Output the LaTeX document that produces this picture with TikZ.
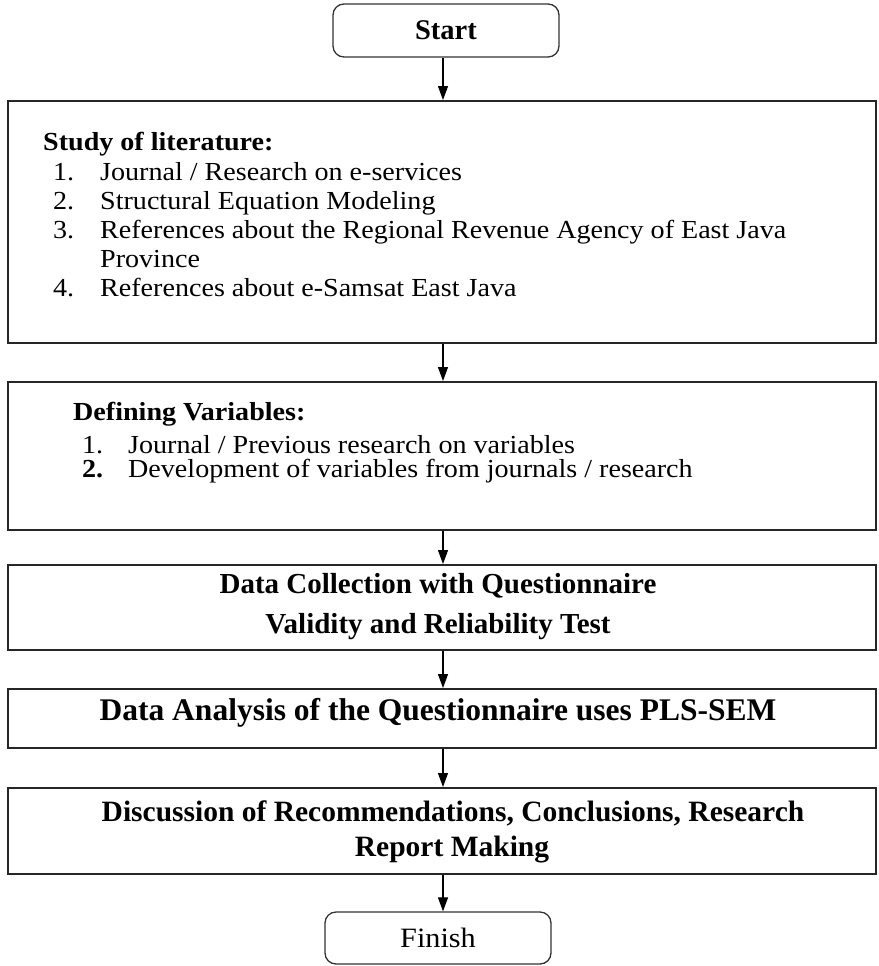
\documentclass[tikz,border=0pt]{standalone}
\usepackage{fontspec}
\setmainfont{Liberation Serif}[FakeStretch=1.08]
\newfontfamily\tfont{Liberation Serif}
\usetikzlibrary{arrows.meta}
\begin{document}
\begin{tikzpicture}[x=1pt,y=-1pt,
  box/.style={draw=black!85, line width=1.6pt, inner sep=0pt, anchor=north west, minimum width=868pt},
  rbox/.style={draw=black!80, line width=1.3pt, rounded corners=11pt, inner sep=0pt, minimum width=226pt},
  arr/.style={draw=black, line width=1.2pt, -{Triangle[width=10pt,length=14pt]}},
  bodyt/.style={inner sep=0pt, anchor=base west, font=\fontsize{26}{29}\selectfont},
  ctitle/.style={inner sep=0pt, anchor=base, font=\tfont\bfseries\fontsize{29.5}{35}\selectfont}
]
\useasboundingbox (0,0) rectangle (878,966);

% shapes
\node[rbox, minimum height=53pt, font=\tfont\bfseries\fontsize{28.5}{34}\selectfont] (start) at (446,30.5) {Start};
\node[box, minimum height=242pt] (b1) at (7,100) {};
\node[box, minimum height=148pt] (b2) at (7,381) {};
\node[box, minimum height=85pt] (b3) at (7,564) {};
\node[box, minimum height=59pt] (b4) at (7,688) {};
\node[box, minimum height=86pt] (b5) at (7,787) {};
\node[rbox, minimum height=52pt, font=\fontsize{28}{32}\selectfont] (finish) at (438,938) {Finish};

% arrows
\coordinate (ax) at (443,0);
\draw[arr] (start.south -| ax) -- (b1.north -| ax);
\draw[arr] (b1.south -| ax) -- (b2.north -| ax);
\draw[arr] (b2.south -| ax) -- (b3.north -| ax);
\draw[arr] (b3.south -| ax) -- (b4.north -| ax);
\draw[arr] (b4.south -| ax) -- (b5.north -| ax);
\draw[arr] (b5.south -| ax) -- (finish.north -| ax);

% box 1 text
\node[bodyt, font=\bfseries\fontsize{26}{29}\selectfont] (t1) at (43,150) {Study of literature:};
\node[bodyt] (n11) at (53,180) {1.};
\node[bodyt] (i11) at (100,180) {Journal / Research on e-services};
\node[bodyt] (n12) at (53,209) {2.};
\node[bodyt] (i12) at (100,209) {Structural Equation Modeling};
\node[bodyt] (n13) at (53,238) {3.};
\node[bodyt] (i13) at (100,238) {References about the Regional Revenue Agency of East Java};
\node[bodyt] (i13b) at (100,267) {Province};
\node[bodyt] (n14) at (53,296) {4.};
\node[bodyt] (i14) at (100,296) {References about e-Samsat East Java};

% box 2 text
\node[bodyt, font=\bfseries\fontsize{26}{29}\selectfont] (t2) at (73,420) {Defining Variables:};
\node[bodyt] (n21) at (82,453) {1.};
\node[bodyt] (i21) at (128,453) {Journal / Previous research on variables};
\node[bodyt, font=\bfseries\fontsize{26}{29}\selectfont] (n22) at (82,477) {2.};
\node[bodyt] (i22) at (128,477) {Development of variables from journals / research};

% box 3 text
\node[ctitle, font=\tfont\bfseries\fontsize{29}{35}\selectfont] (t3a) at (438,593) {Data Collection with Questionnaire};
\node[ctitle, font=\tfont\bfseries\fontsize{29}{35}\selectfont] (t3b) at (438,633) {Validity and Reliability Test};

% box 4 text
\node[ctitle, font=\tfont\bfseries\fontsize{31.5}{36}\selectfont] (t4) at (438,720) {Data Analysis of the Questionnaire uses PLS-SEM};

% box 5 text
\node[ctitle] (t5a) at (453,821) {Discussion of Recommendations, Conclusions, Research};
\node[ctitle] (t5b) at (452,856) {Report Making};
\end{tikzpicture}
\end{document}
